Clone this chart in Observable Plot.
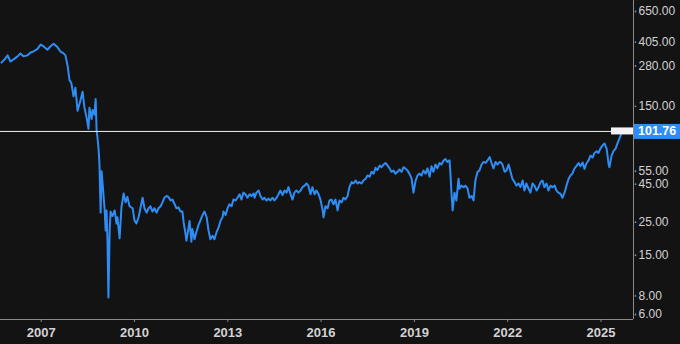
<!DOCTYPE html>
<html>
<head>
<meta charset="utf-8">
<script src="https://cdn.jsdelivr.net/npm/d3@7"></script>
<script src="https://cdn.jsdelivr.net/npm/@observablehq/plot@0.6"></script>
<style>
  html, body { margin: 0; padding: 0; background: #131313; }
  #chart { width: 680px; height: 344px; overflow: hidden; }
  svg { display: block; }
</style>
</head>
<body>
<div id="chart"></div>
<script>
// [decimal year, price]
const priceHistory = [
  [2005.72,295],[2005.82,310],[2005.92,330],[2006.01,300],[2006.11,310],[2006.24,325],[2006.33,340],[2006.43,325],
  [2006.56,330],[2006.66,345],[2006.75,350],[2006.88,365],[2006.98,390],[2007.07,380],[2007.20,360],[2007.30,380],
  [2007.40,395],[2007.52,375],[2007.62,350],[2007.72,340],[2007.78,330],[2007.85,280],[2007.91,225],[2007.97,215],
  [2008.04,175],[2008.10,200],[2008.17,140],[2008.26,164],[2008.33,188],[2008.39,147],[2008.46,126],[2008.52,106],
  [2008.55,147],[2008.62,123],[2008.65,142],[2008.71,132],[2008.75,168],[2008.78,104],[2008.81,92],[2008.84,79],
  [2008.87,63],[2008.91,29],[2008.94,55],[2008.97,46],[2009.04,30],[2009.07,22],[2009.10,30],[2009.13,19],
  [2009.16,7.8],[2009.20,22],[2009.23,29.5],[2009.29,27.5],[2009.36,30],[2009.42,24.5],[2009.45,27],[2009.52,19.5],
  [2009.58,31.5],[2009.65,39],[2009.71,34],[2009.77,37],[2009.84,32],[2009.94,31],[2010.00,25.7],[2010.06,24.5],
  [2010.13,27],[2010.19,31],[2010.26,36.5],[2010.32,31],[2010.39,29],[2010.45,31],[2010.51,32],[2010.58,29.5],
  [2010.64,31],[2010.71,29],[2010.77,31],[2010.84,32],[2010.90,34],[2010.96,36.5],[2011.03,37.5],[2011.09,37],
  [2011.16,35],[2011.22,35.5],[2011.29,33],[2011.35,31],[2011.41,31.5],[2011.48,29.5],[2011.54,29.5],[2011.58,25],
  [2011.64,21],[2011.67,18.8],[2011.74,23],[2011.77,25.5],[2011.83,18.5],[2011.86,22.5],[2011.93,19.2],[2011.99,21.5],
  [2012.06,24],[2012.12,25.7],[2012.19,28],[2012.25,29.5],[2012.32,27],[2012.38,22],[2012.44,19.2],[2012.51,20.3],
  [2012.57,19.2],[2012.64,21.5],[2012.70,23],[2012.77,25.7],[2012.83,27],[2012.86,29.5],[2012.93,28],[2012.99,31],
  [2013.05,33],[2013.12,32],[2013.18,35.5],[2013.25,35],[2013.31,36.5],[2013.38,38.5],[2013.44,35.5],[2013.50,39.5],
  [2013.57,38.5],[2013.63,36.5],[2013.70,38.5],[2013.76,37.5],[2013.83,39],[2013.86,36.5],[2013.92,39.5],[2013.99,40.8],
  [2014.05,37.5],[2014.12,35.5],[2014.18,36.5],[2014.24,35],[2014.31,36],[2014.37,35],[2014.44,36.5],[2014.50,35],
  [2014.57,36.5],[2014.63,38.5],[2014.69,40.8],[2014.76,38],[2014.82,40.8],[2014.89,39.5],[2014.95,43],[2015.02,38.5],
  [2015.08,35.5],[2015.14,39.5],[2015.21,40.8],[2015.27,39.5],[2015.34,40.8],[2015.40,43],[2015.47,44],[2015.53,45.5],
  [2015.59,44],[2015.66,38.5],[2015.72,43],[2015.79,38.5],[2015.85,40.8],[2015.92,38.5],[2015.98,35.5],[2016.05,30],
  [2016.08,27],[2016.14,32],[2016.21,31],[2016.27,35],[2016.33,35.5],[2016.40,33],[2016.46,35.5],[2016.53,30],
  [2016.59,35],[2016.66,34],[2016.72,36.5],[2016.78,35.5],[2016.85,37.5],[2016.91,43],[2016.98,46.5],[2017.04,45.5],
  [2017.11,47.6],[2017.17,45.5],[2017.23,46.5],[2017.30,45.5],[2017.36,47.6],[2017.43,49],[2017.49,51.5],[2017.56,50.5],
  [2017.62,54.5],[2017.69,53],[2017.75,58],[2017.81,56],[2017.88,60],[2017.94,58.5],[2018.01,61],[2018.07,62.5],
  [2018.14,60],[2018.20,57.5],[2018.26,54.5],[2018.33,55.5],[2018.39,53],[2018.46,54.5],[2018.52,56.5],[2018.59,54.5],
  [2018.65,58.5],[2018.71,57.5],[2018.78,55.5],[2018.84,53],[2018.91,49],[2018.97,39.5],[2019.04,47.6],[2019.10,51.5],
  [2019.16,53],[2019.23,51.5],[2019.29,55.5],[2019.36,53],[2019.42,57.5],[2019.49,50.5],[2019.55,59.5],[2019.61,54.5],
  [2019.68,61],[2019.74,57.5],[2019.81,62.5],[2019.87,61],[2019.94,65],[2020.00,66.5],[2020.06,63.5],[2020.13,65],
  [2020.16,53],[2020.19,40],[2020.23,30],[2020.29,39.5],[2020.35,35],[2020.42,49],[2020.45,42],[2020.51,44],
  [2020.58,43],[2020.64,44],[2020.71,42],[2020.77,36.5],[2020.84,37.5],[2020.90,35],[2020.96,47.6],[2021.03,54.5],
  [2021.09,55.5],[2021.16,61],[2021.22,63.5],[2021.29,62.5],[2021.35,65],[2021.42,68.5],[2021.48,62.5],[2021.54,57.5],
  [2021.61,63.5],[2021.67,61],[2021.74,63.5],[2021.80,62.5],[2021.83,61],[2021.90,54.5],[2021.96,55.5],[2022.03,61],
  [2022.09,54.5],[2022.15,49],[2022.22,46.5],[2022.28,44],[2022.35,45.5],[2022.41,43],[2022.48,47.6],[2022.54,40.8],
  [2022.60,45.5],[2022.67,42],[2022.73,39.5],[2022.80,45.5],[2022.86,44],[2022.93,40.8],[2022.99,43],[2023.06,46.5],
  [2023.12,47.6],[2023.18,43],[2023.25,45.5],[2023.31,40.8],[2023.38,44],[2023.44,43],[2023.51,44],[2023.57,40.8],
  [2023.63,39.5],[2023.70,38.8],[2023.76,36.5],[2023.83,39.5],[2023.89,44],[2023.96,49],[2024.02,51.5],[2024.08,53],
  [2024.15,57.5],[2024.21,59.5],[2024.28,62.5],[2024.34,59.5],[2024.41,63],[2024.47,57],[2024.53,62],[2024.60,65],
  [2024.66,70],[2024.73,68],[2024.79,73],[2024.86,75],[2024.92,73],[2024.98,78],[2025.05,82],[2025.11,84.5],
  [2025.18,78],[2025.21,70],[2025.24,62],[2025.27,58.5],[2025.34,70],[2025.40,75],[2025.47,78],[2025.53,84.5],
  [2025.60,92],[2025.66,99],[2025.69,101.76]
];
const lastPrice = 101.76;
const yTickValues = [650, 405, 280, 150, 55, 45, 25, 15, 8, 6];
const xTickYears = [2007, 2010, 2013, 2016, 2019, 2022, 2025];
const xDomainYears = [2005.69, 2026.045];
const yDomain = [5.555, 770.6];

function fromDecimalYear(t) {
  const y = Math.floor(t);
  const a = Date.UTC(y, 0, 1), b = Date.UTC(y + 1, 0, 1);
  return new Date(a + (t - y) * (b - a));
}

const data = priceHistory.map(([t, v]) => ({date: fromDecimalYear(t), value: v}));
const xTicks = xTickYears.map(y => new Date(Date.UTC(y, 0, 1)));
const xDomain = xDomainYears.map(fromDecimalYear);
const yTickRows = yTickValues.map(v => ({date: xDomain[1], value: v}));

const lineColor = "#2e8df5";
const textColor = "#d2d2d2";
const axisColor = "#8a8a8a";
const font = "'Liberation Sans', Arial, sans-serif";

const chart = Plot.plot({
  width: 680,
  height: 344,
  marginLeft: 0,
  marginRight: 47,
  marginTop: 0,
  marginBottom: 25,
  style: {background: "#131313", color: textColor, fontFamily: font, overflow: "visible"},
  x: {type: "utc", domain: xDomain},
  y: {type: "log", domain: yDomain, axis: null},
  marks: [
    Plot.lineY(data, {x: "date", y: "value", stroke: lineColor, strokeWidth: 2, clip: true}),
    Plot.ruleY([lastPrice], {stroke: "#f2f2f2", strokeWidth: 1}),
    Plot.ruleY([yDomain[0]], {stroke: axisColor, strokeWidth: 1}),
    Plot.ruleX([xDomain[1]], {stroke: axisColor, strokeWidth: 1}),
    Plot.axisX({ticks: xTicks, tickFormat: d3.utcFormat("%Y"), tickSize: 3, tickPadding: 5, stroke: axisColor,
      fontSize: 13, fontWeight: "bold", fill: textColor, label: null}),
    // right-hand price axis: tick marks and labels at the listed values
    Plot.dot(yTickRows, {x: "date", y: "value", dx: 2, r: 0.9, fill: axisColor, stroke: null}),
    Plot.text(yTickRows, {x: "date", y: "value", dx: 5, text: d => d.value.toFixed(2), textAnchor: "start",
      fill: textColor, fontSize: 12})
  ]
});

// last-price marker: boxes positioned through the chart's own scales
const svg = d3.select(chart);
const yPix = chart.scale("y").apply(lastPrice);
const xRight = chart.scale("x").apply(xDomain[1]);
svg.append("rect").attr("x", xRight - 22).attr("y", yPix - 3.5).attr("width", 22).attr("height", 7).attr("fill", "#f4f4f4");
svg.append("rect").attr("x", xRight + 1).attr("y", yPix - 7).attr("width", 47).attr("height", 15).attr("fill", lineColor);
svg.append("text").attr("x", xRight + 5).attr("y", yPix).attr("dy", "0.35em")
  .attr("text-anchor", "start")
  .attr("fill", "#ffffff").attr("font-size", 12.5).attr("font-weight", "bold")
  .attr("font-family", font)
  .text(lastPrice.toFixed(2));

document.getElementById("chart").appendChild(chart);
</script>
</body>
</html>
